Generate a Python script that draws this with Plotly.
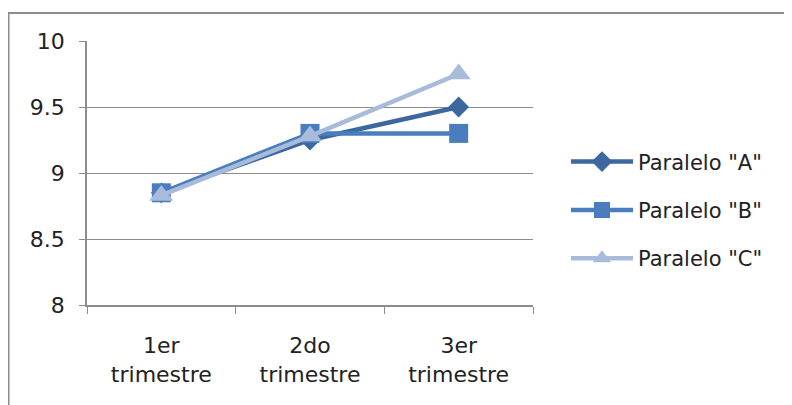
import plotly.graph_objects as go

categories = ["1er<br>trimestre", "2do<br>trimestre", "3er<br>trimestre"]
paralelo_a = [8.85, 9.25, 9.5]
paralelo_b = [8.85, 9.3, 9.3]
paralelo_c = [8.83, 9.28, 9.75]
series_names = ['Paralelo "A"', 'Paralelo "B"', 'Paralelo "C"']
y_ticks = [8, 8.5, 9, 9.5, 10]
y_tick_labels = ["8", "8.5", "9", "9.5", "10"]

colors = ["#3C679F", "#4A7DBD", "#A8BBDB"]
symbols = ["diamond", "square", "triangle-up"]
sizes = [16, 19, 21]

fig = go.Figure()
for i, (name, vals, col, sym, sz) in enumerate(zip(series_names, [paralelo_a, paralelo_b, paralelo_c], colors, symbols, sizes)):
    fig.add_trace(go.Scatter(
        x=categories, y=vals, name=name, mode="lines+markers",
        legendgroup=f"g{i}",
        line=dict(color=col, width=4.5),
        marker=dict(symbol=sym, size=sz, color=col),
    ))

# page has 8px body margin, so positions are in figure coords (screen - 8)
W, H = 792, 405
L, R, T, B = 79, 525, 33, 297
FONT = "DejaVu Sans, Verdana, sans-serif"
fig.update_layout(
    width=W, height=H,
    margin=dict(l=L, r=W - R, t=T, b=H - B, autoexpand=False),
    paper_bgcolor="white", plot_bgcolor="white",
    font=dict(family=FONT, color="#222222", size=22),
    showlegend=True,
    legend=dict(x=(558 - L) / (R - L), y=0.36, xanchor="left", yanchor="middle",
                font=dict(family=FONT, size=21, color="#222222"), itemwidth=62,
                tracegroupgap=18, bgcolor="rgba(0,0,0,0)"),
    xaxis=dict(type="category", range=[-0.5, 2.5], tickson="boundaries",
               ticks="outside", ticklen=7, tickcolor="#8C8C8C",
               showline=True, linecolor="#8C8C8C", linewidth=1.5,
               showgrid=False, ticklabelstandoff=20,
               tickfont=dict(family=FONT, size=22, color="#222222")),
    yaxis=dict(range=[8, 10], tickvals=y_ticks, ticktext=y_tick_labels,
               ticks="outside", ticklen=6, tickcolor="#8C8C8C",
               showline=True, linecolor="#8C8C8C", linewidth=1.5,
               showgrid=True, gridcolor="#8C8C8C", gridwidth=1.3,
               zeroline=False, ticklabelstandoff=10,
               tickfont=dict(family=FONT, size=22, color="#222222")),
    shapes=[dict(type="rect", xref="paper", yref="paper",
                 x0=(0.5 - L) / (R - L), x1=(820 - L) / (R - L),
                 y0=-(430 - B) / (B - T), y1=1 + (T - 5) / (B - T),
                 line=dict(color="#8C8C8C", width=2), layer="below")],
)

fig.write_html("out.html")
